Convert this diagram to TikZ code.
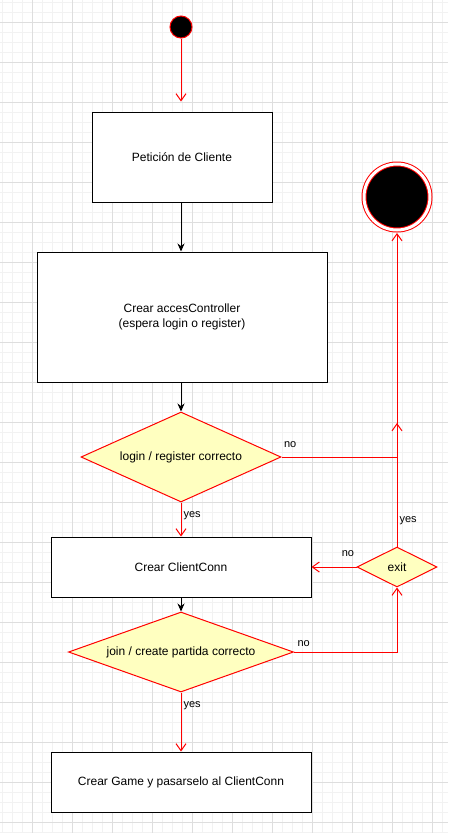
\documentclass[tikz,border=0pt]{standalone}
\usepackage{fontspec}
\setmainfont{Liberation Sans}
\usetikzlibrary{arrows.meta}
\usetikzlibrary{shapes.geometric,calc}

\definecolor{amarillo}{HTML}{FFFFC0}
\definecolor{rejilla}{HTML}{DEDEDE}
\definecolor{rejillafina}{HTML}{F2F2F2}

\tikzset{
	proceso/.style={draw=black, line width=1pt, fill=white, rectangle, align=center, font=\fontsize{12}{15}\selectfont},
	decision/.style={draw=red, line width=1pt, fill=amarillo, diamond, inner sep=0pt, font=\fontsize{12}{15}\selectfont},
	flujo/.style={draw=red, line width=1pt, -{Straight Barb[length=7pt,width=10pt]}},
	paso/.style={draw=black, line width=1pt, -{Stealth[length=8pt,width=7pt]}},
	etiqueta/.style={font=\fontsize{11}{13}\selectfont, inner sep=0pt, text=black},
}

\begin{document}
\begin{tikzpicture}[x=1pt,y=-1pt]

		\useasboundingbox (0,0) rectangle (448,833);
		\fill [white] (0,0) rectangle (448,833);
		
		% rejilla
		\foreach \x in {2,12,...,442} \draw [rejillafina, line width=1pt] (\x,0)--(\x,833);
		\foreach \y in {2,12,...,832} \draw [rejillafina, line width=1pt] (0,\y)--(448,\y);
		\foreach \x in {32,72,...,432} \draw [rejilla, line width=1pt] (\x,0)--(\x,833);
		\foreach \y in {22,62,...,822} \draw [rejilla, line width=1pt] (0,\y)--(448,\y);
		
		\coordinate (I) at (181,27);
		\coordinate (P) at (182,157);
		\coordinate (A) at (182,317);
		\coordinate (L) at (181,457);
		\coordinate (C) at (181,567);
		\coordinate (E) at (397,567);
		\coordinate (J) at (181,652);
		\coordinate (G) at (181,782);
		\coordinate (F) at (397,197);
		\coordinate (S) at (397,423);
		
		\node [circle, draw=red, fill=black, line width=1pt, minimum size=22pt, inner sep=0pt] (inicio) at (I) {};
		\node [proceso, minimum width=180pt, minimum height=90pt] (peticion) at (P) {Petición de Cliente};
		\node [proceso, minimum width=290pt, minimum height=130pt] (acces) at (A) {Crear accesController\\(espera login o register)};
		\node [decision, aspect=2.2, minimum width=200pt, minimum height=90pt] (login) at (L) {login / register correcto};
		\node [proceso, minimum width=260pt, minimum height=60pt] (conn) at (C) {Crear ClientConn};
		\node [decision, aspect=2, minimum width=80pt, minimum height=40pt] (exit) at (E) {exit};
		\node [decision, aspect=2.8, minimum width=225pt, minimum height=80pt] (join) at (J) {join / create partida correcto};
		\node [proceso, minimum width=260pt, minimum height=60pt] (game) at (G) {Crear Game y pasarselo al ClientConn};
		\node [circle, draw=red, double=white, double distance=3pt, fill=black, line width=1pt, minimum size=66pt, inner sep=0pt, outer sep=3pt] (final) at (F) {};
		
		\draw [flujo, shorten >=10pt] (inicio)--(inicio |- peticion.north);
		\draw [paso] (inicio |- peticion.south)--(inicio |- acces.north);
		\draw [paso] (inicio |- acces.south)--(login);
		
		\draw [flujo] (login)--(conn) node [etiqueta, pos=0.4, anchor=west, xshift=2pt] {yes};
		\draw [flujo] (login.east) -| (S) node [etiqueta, pos=0, anchor=south west, xshift=2pt, yshift=9pt] {no};
		
		\draw [paso] (conn)--(join);
		\draw [flujo] (join)--(game) node [etiqueta, pos=0.23, anchor=west, xshift=2pt] {yes};
		\draw [flujo] (join.east) -| (exit.south) node [etiqueta, pos=0, anchor=south west, xshift=3pt, yshift=5pt] {no};
		
		\draw [flujo] (exit.west)--(conn.east) node [etiqueta, pos=0, anchor=south east, xshift=-2pt, yshift=10pt] {no};
		\draw [flujo] (exit.north)--(final.south) node [etiqueta, pos=0.083, anchor=west, xshift=2pt] {yes};
		
\end{tikzpicture}
\end{document}
